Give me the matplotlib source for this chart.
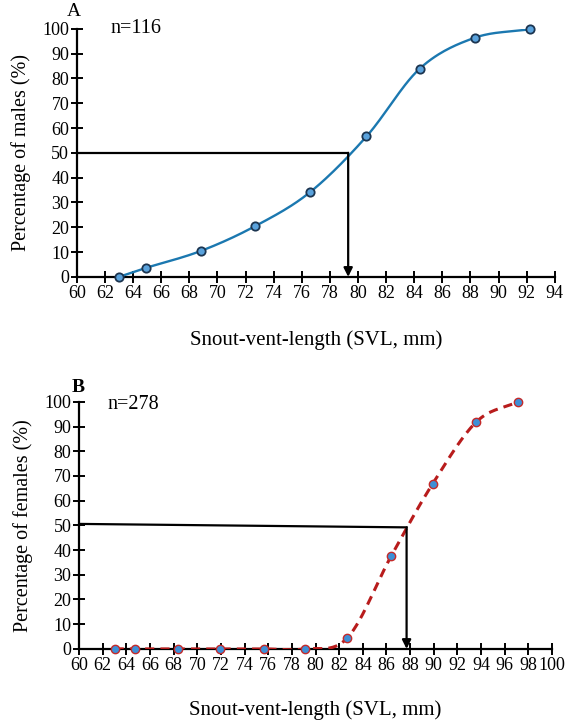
import matplotlib.pyplot as plt
import numpy as np

plt.rcParams['font.family'] = ['Liberation Serif', 'DejaVu Serif']

# Panel A: males
svl_m = [63.0, 64.9, 68.8, 72.7, 76.6, 80.6, 84.4, 88.3, 92.2]
pct_m = [0.0, 3.6, 10.4, 20.5, 34.2, 56.6, 84.0, 96.4, 99.8]
l50_m = 79.3

# Panel B: females
svl_f = [63.0, 64.7, 68.4, 71.9, 75.6, 79.1, 82.7, 86.4, 89.9, 93.6, 97.1]
pct_f = [0.0, 0.0, 0.0, 0.0, 0.0, 0.0, 4.5, 37.6, 66.8, 91.9, 100.0]
l50_f = 87.7


def smooth(x, y, n=30):
    # Catmull-Rom style smoothing, like a spreadsheet "smoothed line"
    x = np.asarray(x, float)
    y = np.asarray(y, float)
    px = np.concatenate([[2 * x[0] - x[1]], x, [2 * x[-1] - x[-2]]])
    py = np.concatenate([[2 * y[0] - y[1]], y, [2 * y[-1] - y[-2]]])
    xs, ys = [], []
    t = np.linspace(0, 1, n)
    for i in range(1, len(px) - 2):
        for arr, out in ((px, xs), (py, ys)):
            p0, p1, p2, p3 = arr[i - 1:i + 3]
            m1 = (p2 - p0) / 6.0
            m2 = (p3 - p1) / 6.0
            b0, b1, b2, b3 = p1, p1 + m1, p2 - m2, p2
            out.extend((1 - t) ** 3 * b0 + 3 * (1 - t) ** 2 * t * b1
                       + 3 * (1 - t) * t ** 2 * b2 + t ** 3 * b3)
    return np.array(xs), np.array(ys)


def style_axes(ax, xmax, label_y, xpad):
    ax.set_xlim(60, xmax)
    ax.set_ylim(0, 100)
    for s in ['top', 'right']:
        ax.spines[s].set_visible(False)
    for s in ['left', 'bottom']:
        ax.spines[s].set_linewidth(1.6)
    ax.set_xticks(np.arange(60, xmax + 1, 2))
    ax.set_yticks(np.arange(0, 101, 10))
    ax.tick_params(direction='inout', length=9, width=1.4, labelsize=13, pad=1)
    ax.set_ylabel(label_y, fontsize=14.5, labelpad=8)
    ax.set_xlabel('Snout-vent-length (SVL, mm)', fontsize=15, labelpad=xpad)


fig = plt.figure(figsize=(5.65, 7.21), dpi=100)

# ---- A
axA = fig.add_axes([0.136, 0.616, 0.846, 0.344])
style_axes(axA, 94, 'Percentage of males (%)', 21)
sx, sy = smooth(svl_m, pct_m)
axA.plot(sx, sy, color='#1b78b0', lw=1.7, zorder=3)
axA.plot(svl_m, pct_m, 'o', ms=6, mfc='#5aa2dc', mec='#1c3550', mew=1.3,
         zorder=4, clip_on=False)
axA.plot([60, l50_m], [50, 50], color='black', lw=1.6)
axA.annotate('', xy=(l50_m, 0), xytext=(l50_m, 50),
             arrowprops=dict(arrowstyle='-|>', color='black', lw=1.6,
                             mutation_scale=13, shrinkA=0, shrinkB=0))
axA.text(-0.02, 1.05, 'A', transform=axA.transAxes, fontsize=14)
axA.text(0.07, 1.0, 'n=116', transform=axA.transAxes, fontsize=14.5, va='center')

# ---- B
axB = fig.add_axes([0.140, 0.100, 0.837, 0.3426])
style_axes(axB, 100, 'Percentage of females (%)', 19)
sx, sy = smooth(svl_f, pct_f)
axB.plot(sx, sy, color='#b81c1c', lw=2.2, ls=(0, (3, 2)), zorder=3)
axB.plot(svl_f, pct_f, 'o', ms=6, mfc='#3d8fd6', mec='#c42a2a', mew=1.0,
         zorder=4, clip_on=False)
axB.plot([60, l50_f], [50.6, 49.2], color='black', lw=1.6)
axB.annotate('', xy=(l50_f, 0), xytext=(l50_f, 49.2),
             arrowprops=dict(arrowstyle='-|>', color='black', lw=1.6,
                             mutation_scale=13, shrinkA=0, shrinkB=0))
axB.text(-0.015, 1.04, 'B', transform=axB.transAxes, fontsize=14, fontweight='bold')
axB.text(0.06, 0.99, 'n=278', transform=axB.transAxes, fontsize=14.5, va='center')

fig.savefig('out.png', dpi=100)
